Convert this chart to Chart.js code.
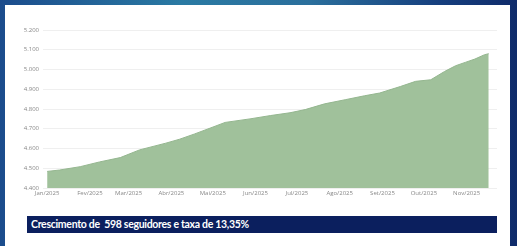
<!DOCTYPE html>
<html lang="pt-BR">
<head>
<meta charset="UTF-8">
<title>Seguidores 2025</title>
<script src="https://cdn.jsdelivr.net/npm/chart.js"></script>
<style>
  html, body { margin: 0; padding: 0; }
  body {
    width: 517px; height: 246px; overflow: hidden; position: relative;
    background: linear-gradient(to right, #1b4c8c 0%, #2a7aa3 35%, #2b6f9c 60%, #163f7e 85%, #0f2b6a 100%);
  }
  .panel {
    position: absolute; left: 5px; top: 5px; width: 505px; height: 241px;
    background: #fff;
  }
  .box { position: absolute; left: 0; top: 0; width: 517px; height: 205px; }
  .banner {
    position: absolute; left: 27px; top: 216px; width: 470px; height: 17px;
    background: #0b1f5e; color: #fff;
    font-family: Lato, sans-serif; font-weight: 700; font-size: 10.5px; letter-spacing: -0.3px;
    line-height: 17px; padding-left: 4px; box-sizing: border-box; white-space: pre;
  }
</style>
</head>
<body>
<div class="panel"></div>
<div class="box"><canvas id="chart"></canvas></div>
<div class="banner">Crescimento de  598 seguidores e taxa de 13,35%</div>
<script>
// meses no eixo x (dia do ano em que cada mes comeca)
const monthLabels = ['Jan/2025', 'Fev/2025', 'Mar/2025', 'Abr/2025', 'Mai/2025', 'Jun/2025',
                     'Jul/2025', 'Ago/2025', 'Set/2025', 'Out/2025', 'Nov/2025'];
const monthDays = [0, 31, 59, 90, 120, 151, 181, 212, 243, 273, 304];

// seguidores (dia do ano -> total)
const days = [0, 9, 24, 38, 53, 67, 86, 96, 107, 118, 129, 147, 162, 176, 187, 201,
              216, 230, 241, 256, 267, 278, 288, 296, 303, 310, 317, 320];
const followers = [4484, 4491, 4508, 4532, 4554, 4593, 4627, 4647, 4674, 4703, 4732, 4750,
                   4767, 4781, 4797, 4826, 4847, 4867, 4881, 4914, 4940, 4948, 4990, 5019,
                   5036, 5053, 5075, 5080];

const yTicks = [4400, 4500, 4600, 4700, 4800, 4900, 5000, 5100, 5200];

const fmt = v => String(v).replace(/\B(?=(\d{3})+(?!\d))/g, '.');

new Chart(document.getElementById('chart'), {
  type: 'line',
  data: {
    datasets: [{
      data: days.map((d, i) => ({ x: d, y: followers[i] })),
      fill: 'start',
      backgroundColor: '#a0c19b',
      borderColor: '#94b68f',
      borderWidth: 1,
      pointRadius: 0,
      tension: 0
    }]
  },
  options: {
    responsive: true,
    maintainAspectRatio: false,
    animation: false,
    layout: { padding: { left: 0, right: 20, top: 30, bottom: 0 } },
    plugins: { legend: { display: false }, tooltip: { enabled: false } },
    scales: {
      x: {
        type: 'linear',
        min: -3,
        max: 326,
        afterBuildTicks: s => { s.ticks = monthDays.map(v => ({ value: v })); },
        afterFit: s => { s.height = 17; },
        grid: { display: false, drawTicks: false },
        border: { display: false },
        ticks: {
          autoSkip: false,
          maxRotation: 0,
          padding: 2,
          color: '#888',
          font: { family: 'Open Sans', size: 6 },
          callback: v => monthLabels[monthDays.indexOf(v)]
        }
      },
      y: {
        min: 4400,
        max: 5200,
        afterBuildTicks: s => { s.ticks = yTicks.map(v => ({ value: v })); },
        afterFit: s => { s.width = 43; },
        grid: { color: '#efefef', drawTicks: false },
        border: { display: false },
        ticks: {
          padding: 4,
          color: '#888',
          font: { family: 'Open Sans', size: 6 },
          callback: v => fmt(v)
        }
      }
    }
  }
});
</script>
</body>
</html>
